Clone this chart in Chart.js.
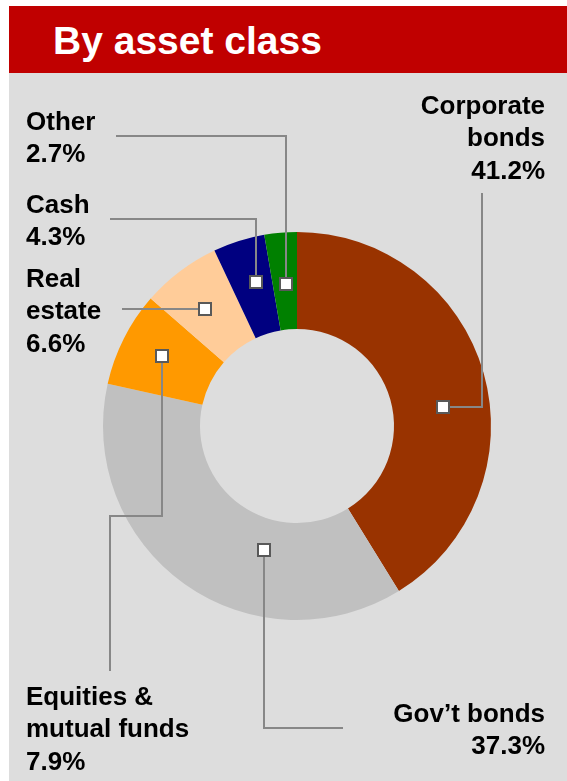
<!DOCTYPE html>
<html lang="en">
<head>
    <meta charset="UTF-8">
    <title>By asset class</title>
    <style>
        body { margin: 0; background: #fff; width: 567px; height: 781px; overflow: hidden; position: relative; }
        .painel { position: absolute; left: 9px; top: 6px; width: 558px; height: 775px; background: #dddddd; }
        .topo { height: 66px; padding-top: 1px; background: #c00000; color: #fff;
                font: bold 39px "Liberation Sans", Arial, sans-serif; line-height: 67px; padding-left: 44px; }
        #grafico { position: absolute; left: 0; top: 0; }
    </style>
</head>
<body>
    <div class="painel">
        <div class="topo">By asset class</div>
    </div>
    <canvas id="grafico" width="567" height="781"></canvas>
    <script src="https://cdn.jsdelivr.net/npm/chart.js"></script>
    <script>
        // data
        var classes = ["Corporate bonds", "Gov\u2019t bonds", "Equities & mutual funds", "Real estate", "Cash", "Other"];
        var percent = [41.2, 37.3, 7.9, 6.6, 4.3, 2.7];
        var cores = ["#993300", "#c0c0c0", "#ff9900", "#ffcc99", "#000080", "#008000"];

        // label text split in lines, plus where the marker sits in the slice and where the leader goes
        var rotulos = [
            { linhas: ["Corporate", "bonds", "41.2%"], x: 545, y: 114, lado: "right", frac: 0.557, rad: 0.52, caminho: [["h", 482], ["v", 193]] },
            { linhas: ["Gov\u2019t bonds", "37.3%"], x: 545, y: 722, lado: "right", frac: 0.347, rad: 0.32, caminho: [["v", 728], ["h", 343]] },
            { linhas: ["Equities &", "mutual funds", "7.9%"], x: 26, y: 705, lado: "left", frac: 0.52, rad: 0.57, caminho: [["v", 516], ["h", 110], ["v", 671]] },
            { linhas: ["Real", "estate", "6.6%"], x: 26, y: 287, lado: "left", frac: 0.45, rad: 0.53, caminho: [["h", 122]] },
            { linhas: ["Cash", "4.3%"], x: 26, y: 213, lado: "left", frac: 0.59, rad: 0.54, caminho: [["v", 219], ["h", 110]] },
            { linhas: ["Other", "2.7%"], x: 26, y: 130, lado: "left", frac: 0.55, rad: 0.47, caminho: [["v", 136], ["h", 116]] }
        ];

        var rotulosPlugin = {
            id: "rotulos",
            afterDatasetsDraw: function (chart) {
                var ctx = chart.ctx;
                var arcos = chart.getDatasetMeta(0).data;
                var pontos = [];

                ctx.save();
                for (var i = 0; i < arcos.length; i++) {
                    var p = arcos[i].getProps(["x", "y", "startAngle", "endAngle", "innerRadius", "outerRadius"], true);
                    var ang = p.startAngle + rotulos[i].frac * (p.endAngle - p.startAngle);
                    var r = p.innerRadius + rotulos[i].rad * (p.outerRadius - p.innerRadius);
                    var mx = Math.round(p.x + r * Math.cos(ang));
                    var my = Math.round(p.y + r * Math.sin(ang));
                    pontos.push([mx, my]);

                    // leader line
                    ctx.strokeStyle = "#878787";
                    ctx.lineWidth = 2;
                    ctx.beginPath();
                    ctx.moveTo(mx, my);
                    var cx = mx, cy = my;
                    var cam = rotulos[i].caminho;
                    for (var j = 0; j < cam.length; j++) {
                        if (cam[j][0] == "h") cx = cam[j][1];
                        else cy = cam[j][1];
                        ctx.lineTo(cx, cy);
                    }
                    ctx.stroke();
                }

                // little white squares
                for (var i = 0; i < pontos.length; i++) {
                    ctx.fillStyle = "#fff";
                    ctx.strokeStyle = "#595959";
                    ctx.lineWidth = 2;
                    ctx.fillRect(pontos[i][0] - 6, pontos[i][1] - 6, 12, 12);
                    ctx.strokeRect(pontos[i][0] - 6, pontos[i][1] - 6, 12, 12);
                }

                // texts
                ctx.fillStyle = "#000";
                ctx.font = 'bold 26px "Liberation Sans", Arial, sans-serif';
                ctx.textBaseline = "alphabetic";
                for (var i = 0; i < rotulos.length; i++) {
                    ctx.textAlign = rotulos[i].lado;
                    for (var k = 0; k < rotulos[i].linhas.length; k++) {
                        ctx.fillText(rotulos[i].linhas[k], rotulos[i].x, rotulos[i].y + k * 32.3);
                    }
                }
                ctx.restore();
            }
        };

        var config = {
            type: "doughnut",
            data: {
                labels: classes,
                datasets: [{
                    data: percent,
                    backgroundColor: cores,
                    borderWidth: 0,
                }]
            },
            options: {
                responsive: false,
                animation: false,
                cutout: "50%",
                layout: {
                    padding: { left: 103, right: 76, top: 232, bottom: 161 }
                },
                plugins: {
                    legend: { display: false },
                    tooltip: { enabled: false },
                },
            },
            plugins: [rotulosPlugin]
        };

        new Chart(document.getElementById("grafico"), config);
    </script>
</body>
</html>
